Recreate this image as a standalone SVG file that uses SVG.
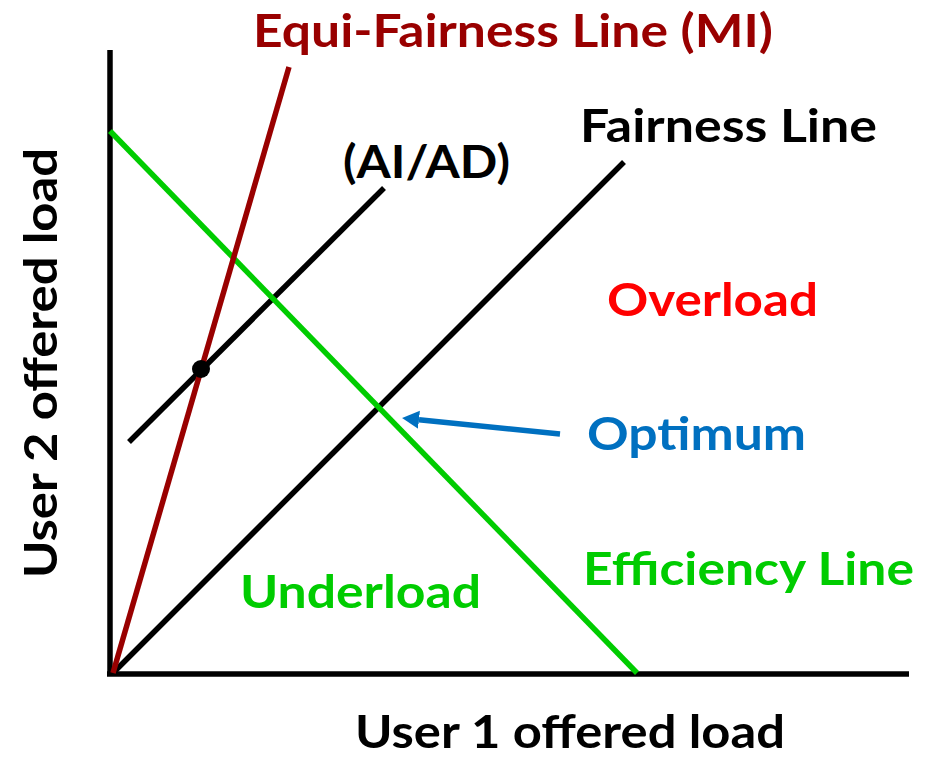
<svg xmlns="http://www.w3.org/2000/svg" width="930" height="757" viewBox="0 0 930 757">
  <style>
    .t { font-family: Lato, "Open Sans", "Liberation Sans", sans-serif; font-weight: bold; font-size: 46px; }
    .ln { fill: none; stroke-width: 5.5; stroke-linecap: butt; }
    .blk { stroke: #000000; }
  </style>
  <defs>
    <marker id="ah" markerUnits="userSpaceOnUse" markerWidth="20" markerHeight="20" refX="0" refY="9" orient="auto">
      <path d="M0,0 L17,9 L0,18 Z" fill="#0070C0"/>
    </marker>
  </defs>
  <rect width="930" height="757" fill="#ffffff"/>
  <g id="connectors">
    <line id="y-axis" class="ln blk" x1="110" y1="50" x2="110" y2="676"/>
    <line id="x-axis" class="ln blk" x1="107" y1="674" x2="909" y2="674"/>
    <line id="fairness-line" class="ln blk" x1="113" y1="673" x2="624" y2="162"/>
    <line id="aiad-line" class="ln blk" x1="129" y1="442" x2="384" y2="188"/>
    <line id="efficiency-line" class="ln" stroke="#00CC00" x1="110" y1="131" x2="637" y2="673"/>
    <line id="equi-fairness-line" class="ln" stroke="#990000" x1="113" y1="673" x2="289" y2="67"/>
    <line id="optimum-arrow" class="ln" stroke="#0070C0" x1="560" y1="434" x2="419" y2="419.7" marker-end="url(#ah)"/>
  </g>
  <g id="start-point">
    <circle cx="201" cy="369" r="9" fill="#000000"/>
  </g>
  <g id="label-equi">
    <text class="t" x="253" y="47" fill="#990000" textLength="520" lengthAdjust="spacingAndGlyphs">Equi-Fairness Line (MI)</text>
  </g>
  <g id="label-aiad">
    <text class="t" x="343" y="178" fill="#000000" textLength="167" lengthAdjust="spacingAndGlyphs">(AI/AD)</text>
  </g>
  <g id="label-fairness">
    <text class="t" x="580" y="142" fill="#000000" textLength="297" lengthAdjust="spacingAndGlyphs">Fairness Line</text>
  </g>
  <g id="label-overload">
    <text class="t" x="607" y="316" fill="#FF0000" textLength="211" lengthAdjust="spacingAndGlyphs">Overload</text>
  </g>
  <g id="label-optimum">
    <text class="t" x="587" y="450" fill="#0070C0" textLength="219" lengthAdjust="spacingAndGlyphs">Optimum</text>
  </g>
  <g id="label-efficiency">
    <text class="t" x="583" y="585" fill="#00CC00" textLength="331" lengthAdjust="spacingAndGlyphs">Efficiency Line</text>
  </g>
  <g id="label-underload">
    <text class="t" x="240" y="608" fill="#00CC00" textLength="241" lengthAdjust="spacingAndGlyphs">Underload</text>
  </g>
  <g id="label-user1">
    <text class="t" x="355" y="748" fill="#000000" textLength="430" lengthAdjust="spacingAndGlyphs">User 1 offered load</text>
  </g>
  <g id="label-user2">
    <text class="t" transform="translate(57,578) rotate(-90)" x="0" y="0" fill="#000000" textLength="430" lengthAdjust="spacingAndGlyphs">User 2 offered load</text>
  </g>
</svg>
